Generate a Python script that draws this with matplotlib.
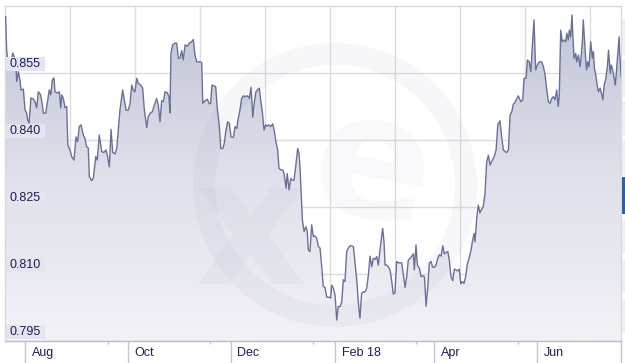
import numpy as np
import pandas as pd
import matplotlib
matplotlib.use("Agg")
import matplotlib.pyplot as plt
import matplotlib.dates as mdates
import matplotlib.transforms as mtransforms
from matplotlib.colors import LinearSegmentedColormap
from matplotlib.patches import Annulus, Rectangle

# ---------------- data ----------------
start_date = "2017-07-20"
end_date = "2018-07-21"
days = [0.4, 1.0, 2.0, 3.4, 4.6, 5.5, 6.5, 7.0, 7.9, 8.9, 9.5, 10.9, 11.9, 12.9, 13.5, 14.3,
        15.4, 16.8, 17.8, 18.8, 19.8, 21.2, 22.2, 22.8, 24.2, 25.4, 26.3, 27.2, 28.1, 29.1,
        29.7, 31.1, 32.3, 33.1, 33.7, 34.6, 35.7, 36.7, 37.3, 38.6, 39.6, 41.0, 42.2, 43.2,
        44.1, 45.2, 46.5, 47.5, 48.5, 49.5, 50.1, 51.5, 52.5, 53.9, 54.8, 56.0, 57.5, 58.8,
        60.0, 60.8, 62.0, 63.0, 64.0, 65.4, 66.4, 67.3, 68.3, 69.9, 70.9, 71.9, 73.3, 74.3,
        75.3, 76.2, 77.2, 78.3, 79.2, 80.6, 81.8, 82.8, 84.2, 85.1, 86.2, 87.5, 88.7, 90.1,
        91.1, 92.1, 93.1, 94.1, 95.1, 96.4, 97.4, 98.0, 98.6, 99.6, 101.0, 102.0, 103.0,
        104.0, 105.0, 105.9, 107.0, 108.3, 109.5, 110.9, 111.9, 112.9, 113.9, 115.9, 116.9,
        117.5, 118.8, 120.2, 121.4, 122.2, 123.0, 124.2, 125.2, 126.2, 127.2, 128.2, 129.4,
        130.3, 131.3, 132.3, 133.3, 134.3, 135.7, 136.7, 137.7, 138.6, 139.6, 140.6, 141.6,
        142.6, 144.0, 145.2, 146.2, 147.2, 148.0, 149.1, 149.9, 151.1, 151.9, 152.9, 153.9,
        154.9, 155.9, 156.9, 157.9, 159.1, 159.8, 161.0, 162.0, 162.8, 163.8, 165.0, 165.8,
        167.0, 167.7, 168.8, 169.8, 170.7, 171.7, 172.7, 173.9, 174.7, 175.3, 175.9, 176.7,
        177.7, 178.8, 179.6, 180.2, 181.2, 182.2, 183.2, 184.2, 185.2, 186.2, 187.2, 188.2,
        189.1, 190.1, 191.2, 192.5, 193.5, 194.1, 195.1, 196.1, 197.1, 198.0, 199.1, 200.1,
        201.0, 202.0, 203.0, 204.0, 205.0, 206.0, 207.0, 208.0, 209.0, 209.9, 210.9, 211.9,
        212.9, 213.9, 214.9, 215.9, 216.9, 217.9, 218.8, 219.9, 220.9, 221.8, 222.8, 223.8,
        224.4, 225.2, 225.8, 226.8, 227.8, 228.8, 229.8, 230.7, 231.7, 232.7, 233.7, 235.7,
        236.7, 237.7, 238.7, 239.6, 240.7, 241.7, 242.6, 243.2, 244.2, 245.0, 246.2, 247.2,
        248.2, 249.2, 250.2, 251.2, 252.1, 253.1, 254.1, 255.1, 256.1, 257.1, 258.1, 259.1,
        260.1, 261.0, 262.0, 263.1, 264.0, 265.0, 266.0, 267.0, 268.0, 269.0, 269.9, 270.8,
        271.7, 272.7, 273.7, 274.7, 275.7, 276.7, 277.7, 278.7, 279.3, 280.3, 281.2, 282.2,
        283.2, 284.2, 285.2, 286.2, 287.2, 288.2, 289.6, 290.7, 291.8, 292.8, 294.1, 295.1,
        296.1, 297.1, 298.1, 299.1, 300.1, 301.1, 302.0, 303.0, 304.1, 305.0, 306.4, 307.6,
        308.4, 309.6, 310.4, 311.5, 312.4, 313.3, 314.3, 315.3, 316.3, 317.5, 318.9, 319.9,
        320.9, 321.9, 322.9, 323.8, 324.8, 325.8, 326.8, 327.8, 328.7, 329.3, 330.2, 331.1,
        332.1, 333.2, 333.8, 334.7, 335.3, 336.1, 336.9, 337.3, 338.1, 339.1, 339.7, 340.7,
        341.7, 342.3, 343.0, 343.6, 344.2, 345.0, 345.6, 346.2, 347.0, 348.0, 349.0, 349.6,
        350.2, 351.0, 352.0, 352.6, 353.6, 354.6, 355.2, 356.0, 357.0, 357.9, 358.6, 359.6,
        360.2, 361.0, 362.0, 362.6, 363.2, 364.0, 364.9, 365.2, 365.6, 366.0]
rates = [0.8676, 0.8598, 0.8575, 0.8572, 0.8595, 0.8587, 0.8561, 0.8531, 0.8553, 0.8534,
         0.8512, 0.8514, 0.8467, 0.8460, 0.8445, 0.8438, 0.8494, 0.8492, 0.8486, 0.8472,
         0.8508, 0.8501, 0.8478, 0.8460, 0.8460, 0.8490, 0.8512, 0.8501, 0.8534, 0.8539,
         0.8508, 0.8505, 0.8508, 0.8472, 0.8501, 0.8494, 0.8472, 0.8475, 0.8389, 0.8378,
         0.8363, 0.8355, 0.8407, 0.8396, 0.8430, 0.8434, 0.8411, 0.8404, 0.8385, 0.8382,
         0.8318, 0.8309, 0.8315, 0.8363, 0.8355, 0.8411, 0.8374, 0.8372, 0.8378, 0.8366,
         0.8340, 0.8424, 0.8372, 0.8369, 0.8381, 0.8422, 0.8467, 0.8512, 0.8490, 0.8467,
         0.8467, 0.8482, 0.8523, 0.8512, 0.8508, 0.8538, 0.8527, 0.8523, 0.8516, 0.8467,
         0.8428, 0.8452, 0.8460, 0.8463, 0.8478, 0.8493, 0.8478, 0.8441, 0.8488, 0.8486,
         0.8508, 0.8506, 0.8497, 0.8461, 0.8594, 0.8613, 0.8617, 0.8617, 0.8583, 0.8583,
         0.8600, 0.8579, 0.8613, 0.8610, 0.8617, 0.8620, 0.8625, 0.8590, 0.8575, 0.8575,
         0.8573, 0.8482, 0.8488, 0.8491, 0.8481, 0.8482, 0.8523, 0.8521, 0.8519, 0.8467,
         0.8437, 0.8381, 0.8381, 0.8393, 0.8422, 0.8441, 0.8437, 0.8407, 0.8406, 0.8430,
         0.8426, 0.8449, 0.8467, 0.8493, 0.8499, 0.8497, 0.8499, 0.8493, 0.8518, 0.8451,
         0.8482, 0.8508, 0.8512, 0.8516, 0.8490, 0.8463, 0.8422, 0.8434, 0.8431, 0.8434,
         0.8430, 0.8436, 0.8424, 0.8396, 0.8378, 0.8337, 0.8333, 0.8333, 0.8325, 0.8292,
         0.8325, 0.8288, 0.8314, 0.8310, 0.8310, 0.8340, 0.8381, 0.8370, 0.8337, 0.8288,
         0.8221, 0.8195, 0.8206, 0.8195, 0.8154, 0.8150, 0.8210, 0.8184, 0.8185, 0.8180,
         0.8161, 0.8158, 0.8116, 0.8072, 0.8070, 0.8048, 0.8048, 0.8046, 0.8075, 0.8068,
         0.8053, 0.7997, 0.8027, 0.8027, 0.8038, 0.8087, 0.8083, 0.8150, 0.8158, 0.8163,
         0.8163, 0.8161, 0.8124, 0.8087, 0.8038, 0.8001, 0.8057, 0.8060, 0.8060, 0.8068,
         0.8098, 0.8140, 0.8116, 0.8135, 0.8133, 0.8139, 0.8120, 0.8154, 0.8184, 0.8202,
         0.8172, 0.8120, 0.8120, 0.8116, 0.8109, 0.8083, 0.8055, 0.8057, 0.8128, 0.8125,
         0.8125, 0.8098, 0.8070, 0.8094, 0.8131, 0.8135, 0.8140, 0.8145, 0.8109, 0.8165,
         0.8120, 0.8113, 0.8094, 0.8096, 0.8094, 0.8028, 0.8072, 0.8124, 0.8128, 0.8115,
         0.8115, 0.8120, 0.8135, 0.8143, 0.8140, 0.8163, 0.8145, 0.8148, 0.8150, 0.8131,
         0.8094, 0.8085, 0.8111, 0.8109, 0.8107, 0.8111, 0.8078, 0.8083, 0.8079, 0.8094,
         0.8122, 0.8135, 0.8150, 0.8172, 0.8191, 0.8172, 0.8225, 0.8254, 0.8237, 0.8245,
         0.8251, 0.8281, 0.8351, 0.8366, 0.8344, 0.8355, 0.8363, 0.8378, 0.8434, 0.8443,
         0.8407, 0.8378, 0.8374, 0.8372, 0.8378, 0.8456, 0.8463, 0.8480, 0.8484, 0.8493,
         0.8499, 0.8486, 0.8490, 0.8538, 0.8538, 0.8579, 0.8575, 0.8553, 0.8609, 0.8669,
         0.8557, 0.8568, 0.8575, 0.8575, 0.8564, 0.8546, 0.8512, 0.8486, 0.8482, 0.8493,
         0.8497, 0.8490, 0.8512, 0.8475, 0.8497, 0.8646, 0.8620, 0.8624, 0.8620, 0.8639,
         0.8624, 0.8646, 0.8631, 0.8680, 0.8642, 0.8583, 0.8594, 0.8575, 0.8590, 0.8564,
         0.8587, 0.8617, 0.8669, 0.8631, 0.8583, 0.8557, 0.8575, 0.8564, 0.8620, 0.8583,
         0.8598, 0.8561, 0.8546, 0.8519, 0.8508, 0.8516, 0.8501, 0.8490, 0.8523, 0.8538,
         0.8564, 0.8601, 0.8549, 0.8568, 0.8557, 0.8538, 0.8523, 0.8549, 0.8590, 0.8631,
         0.8594, 0.8575, 0.8542]

y_ticks = [0.795, 0.810, 0.825, 0.840, 0.855]
y_tick_labels = ["0.795", "0.810", "0.825", "0.840", "0.855"]
y_range = (0.795, 0.870)
month_ticks = ["2017-08-01", "2017-10-01", "2017-12-01", "2018-02-01", "2018-04-01", "2018-06-01"]
month_labels = ["Aug", "Oct", "Dec", "Feb 18", "Apr", "Jun"]
minor_ticks = ["2017-09-19", "2017-11-19", "2018-01-19", "2018-03-21", "2018-05-21"]

# ---------------- figure ----------------
W, H = 625, 363
fig = plt.figure(figsize=(W / 100, H / 100), dpi=100)
fig.patch.set_facecolor("white")
ax = fig.add_axes([5 / W, 22 / H, 616 / W, 335 / H])
ax.set_facecolor("white")

t0 = pd.Timestamp(start_date)
dates = t0 + pd.to_timedelta(days, unit="D")
xn = mdates.date2num(dates.to_pydatetime())
yv = np.array(rates)
x0 = mdates.date2num(pd.Timestamp(start_date).to_pydatetime())
x1 = mdates.date2num(pd.Timestamp(end_date).to_pydatetime())

ax.set_xlim(x0, x1)
ax.set_ylim(*y_range)

text_col = "#1b1f5a"
grid_col = "#dcdcdf"
line_col = "#6a7199"

# grid
for v in y_ticks:
    ax.axhline(v, color=grid_col, lw=1, zorder=1)
ax.vlines(np.arange(1, 10) * 65 / 616, 0, 1, transform=ax.transAxes,
          color=grid_col, lw=1, zorder=1)

# gradient fill under the line
poly = ax.fill_between(xn, yv, y_range[0], color="none", lw=0, zorder=2)
cmap = LinearSegmentedColormap.from_list("g", ["#f2f2f7", "#dfe0ea", "#bfc3d6"])
grad = np.linspace(0, 1, 256).reshape(-1, 1)
im = ax.imshow(grad, extent=[x0, x1, y_range[0], y_range[1]], origin="lower",
               aspect="auto", cmap=cmap, zorder=2, interpolation="bilinear")
path = poly.get_paths()[0]
im.set_clip_path(path, transform=ax.transData)
ax.plot(xn, yv, color=line_col, lw=1.0, zorder=4, solid_joinstyle="round")

# watermark (faint logo)
idt = mtransforms.IdentityTransform()
wm_col = (0.35, 0.35, 0.55)
ring = Annulus((335, H - 185), 142, 22, transform=idt, color=wm_col, alpha=0.045,
               lw=0, zorder=3)
ax.add_patch(ring)
ax.text(372, H - 170, "e", transform=idt, fontsize=125, fontweight="bold",
        color=wm_col, alpha=0.035, ha="center", va="center", zorder=3,
        family="DejaVu Sans", rotation=-10)
ax.text(250, H - 235, "x", transform=idt, fontsize=125, fontweight="bold",
        color=wm_col, alpha=0.035, ha="center", va="center", zorder=3,
        family="DejaVu Sans")

# spines
for s in ["top", "left", "right"]:
    ax.spines[s].set_color("#d8d8de")
    ax.spines[s].set_linewidth(1)
ax.spines["bottom"].set_color("#b9bccb")
ax.spines["bottom"].set_linewidth(1)
ax.spines["bottom"].set_zorder(6)

# y labels inside plot
ax.set_yticks([])
px_y = (y_range[1] - y_range[0]) / 335.0
for v, lab in zip(y_ticks, y_tick_labels):
    ax.add_patch(Rectangle((1 / 616, v + 2 * px_y), 39 / 616, 14 * px_y,
                           transform=mtransforms.blended_transform_factory(ax.transAxes, ax.transData),
                           facecolor="#e4e5ef", edgecolor="none", zorder=7, clip_on=False))
    ax.text(5 / 616, v + 9 * px_y, lab, transform=mtransforms.blended_transform_factory(ax.transAxes, ax.transData),
            fontsize=9, color=text_col, ha="left", va="center", zorder=8,
            family="Liberation Sans")

# x ticks
major = [mdates.date2num(pd.Timestamp(d).to_pydatetime()) for d in month_ticks] + [x1]
ax.set_xticks(major)
ax.set_xticklabels(month_labels + [""], fontsize=9, color=text_col, family="Liberation Sans")
ax.set_xticks([mdates.date2num(pd.Timestamp(d).to_pydatetime()) for d in minor_ticks], minor=True)
ax.tick_params(axis="x", which="major", direction="out", length=15.5, width=1,
               color="#c4c6d2", pad=-11.5)
ax.tick_params(axis="x", which="minor", direction="out", length=2.5, width=1,
               color="#c4c6d2")
off = mtransforms.ScaledTranslation(5 / 72, 0, fig.dpi_scale_trans)
for lab in ax.get_xticklabels():
    lab.set_horizontalalignment("left")
    lab.set_transform(lab.get_transform() + off)

# right-side indicator strip
for top, bot in [(20, 55), (60, 97), (101, 135), (140, 175), (220, 253), (260, 293), (300, 333)]:
    fig.patches.append(Rectangle((622, H - bot), 3, bot - top, transform=idt,
                                 facecolor="#eeeff3", edgecolor="none", figure=fig))
fig.patches.append(Rectangle((622, H - 214), 3, 37, transform=idt,
                             facecolor="#2a63a8", edgecolor="none", figure=fig))

fig.savefig("out.png", dpi=100)
